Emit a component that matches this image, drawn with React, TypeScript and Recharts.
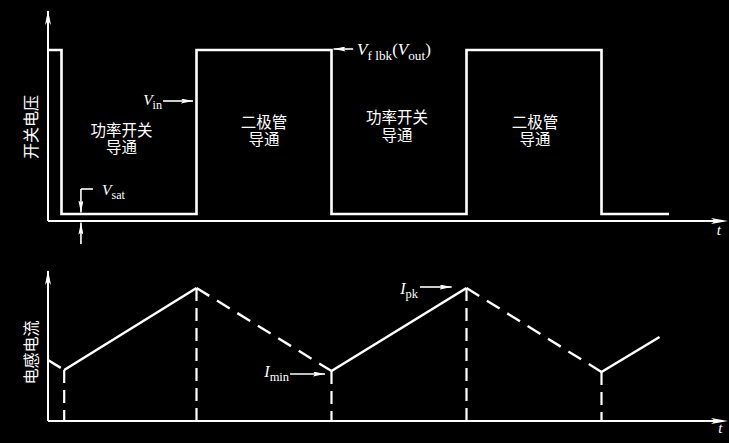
import React from 'react';
import { ComposedChart, Line, XAxis, YAxis, ReferenceLine, ReferenceDot } from 'recharts';

// ---------------- data ----------------
// switch voltage waveform (time units, volts arbitrary)
const switchTime = [0, 1, 1, 11, 11, 21, 21, 31, 31, 41, 41, 46];
const switchVolt = [8.55, 8.55, 0.35, 0.35, 8.55, 8.55, 0.35, 0.35, 8.55, 8.55, 0.35, 0.35];

// inductor current turning points
const currentTime = [0, 1.2, 11, 21, 31, 41, 45.3];
const currentAmp = [3.05, 2.55, 6.65, 2.5, 6.65, 2.45, 4.2];
// segment i goes from point i to i+1: true = rising (switch on, solid), false = falling (diode, dashed)
const segmentRising = [false, true, false, true, false, true];
// turning points that get a dashed drop line
const dropIndex = [1, 2, 3, 4, 5];

// conduction region labels
const regionT = [5.44, 16, 25.85, 36.07];
const regionV = [4.12, 4.51, 4.75, 4.53];
const regionText = [
  ['功率开关', '导通'],
  ['二极管', '导通'],
  ['功率开关', '导通'],
  ['二极管', '导通'],
];

const topAxisTitle = '开关电压';
const bottomAxisTitle = '电感电流';
const timeLabel = 't';

// axis extents
const timeMax = 50;
const voltMax = 10.5;
const ampMax = 7.5;

// annotation anchor points [t, value]
const vinArrow = [[8.52, 6.0], [10.74, 6.0]];
const vflbkArrow = [[22.6, 8.6], [21.15, 8.6]];
const vsatLeader = [[3.33, 1.6], [2.44, 1.6]];
const vsatDown = [[2.44, 1.6], [2.44, 0.42]];
const vsatUp = [[2.44, -1.15], [2.44, -0.08]];
const vsatText = [4.0, 1.3];
const ipkArrow = [[27.56, 6.7], [29.9, 6.7]];
const iminArrow = [[17.93, 2.35], [20.52, 2.35]];

// ---------------- derived ----------------
const switchData = switchTime.map((t, i) => ({ t, v: switchVolt[i] }));
const currentPts = currentTime.map((t, i) => ({ t, v: currentAmp[i] }));
const buildSegments = (rising: boolean) => {
  const out: { t: number; v: number | null }[] = [];
  segmentRising.forEach((r, i) => {
    if (r !== rising) return;
    if (out.length) out.push({ t: currentTime[i], v: null });
    out.push(currentPts[i], currentPts[i + 1]);
  });
  return out;
};
const risingData = buildSegments(true);
const fallingData = buildSegments(false);

const WHITE = '#ffffff';
const SERIF = "'Liberation Serif', 'DejaVu Serif', serif";
const CJK = "'Noto Sans CJK SC', 'Noto Sans', sans-serif";
const CJK_BLOCK = "'Liberation Sans', 'Noto Sans CJK SC', sans-serif";

type Part = { s: string; i?: boolean; sub?: boolean };

function rich(x: number, y: number, parts: Part[], anchor: 'start' | 'end' | 'middle', size: number) {
  const subSize = size * 0.78;
  const shift = size * 0.28;
  let prevSub = false;
  const spans = parts.map((p, k) => {
    let dy = 0;
    if (p.sub && !prevSub) dy = shift;
    if (!p.sub && prevSub) dy = -shift;
    prevSub = !!p.sub;
    return (
      <tspan key={k} dy={dy} fontStyle={p.i ? 'italic' : 'normal'} fontSize={p.sub ? subSize : size}>
        {p.s}
      </tspan>
    );
  });
  return (
    <text x={x} y={y} textAnchor={anchor} fill={WHITE} fontFamily={SERIF} fontSize={size}>
      {spans}
    </text>
  );
}

const noteLabel = (render: (x: number, y: number) => React.ReactNode) => (props: any) => {
  const vb = props && props.viewBox ? props.viewBox : props;
  const x = (vb.x || 0) + (vb.width || 0) / 2;
  const y = (vb.y || 0) + (vb.height || 0) / 2;
  return <g>{render(x, y)}</g>;
};

const arrowShape = (marker: string | null, width = 1.6) => (p: any) => (
  <line
    x1={p.x1}
    y1={p.y1}
    x2={p.x2}
    y2={p.y2}
    stroke={WHITE}
    strokeWidth={width}
    markerEnd={marker ? `url(#${marker})` : undefined}
  />
);

const seg = (a: number[][]) => [
  { x: a[0][0], y: a[0][1] },
  { x: a[1][0], y: a[1][1] },
];

const Note = (t: number, v: number, render: (x: number, y: number) => React.ReactNode, key: string) => (
  <ReferenceDot
    key={key}
    x={t}
    y={v}
    r={0}
    fill="none"
    stroke="none"
    ifOverflow="visible"
    label={noteLabel(render)}
  />
);

const verticalTitle = (text: string) => (x: number, y: number) => (
  <text
    x={x}
    y={y}
    transform={`rotate(-90 ${x} ${y})`}
    textAnchor="middle"
    dominantBaseline="central"
    fontFamily={CJK}
    fontSize={16}
    fill={WHITE}
  >
    {text}
  </text>
);

const BLOCK_SIZE = 15.5;
const BLOCK_GAP = 17.5;
const blockText = (lines: string[]) => (x: number, y: number) => (
  <g>
    {lines.map((l, i) => (
      <text
        key={i}
        x={x}
        y={y + (i - (lines.length - 1) / 2) * BLOCK_GAP + BLOCK_SIZE * 0.38}
        textAnchor="middle"
        fontFamily={CJK_BLOCK}
        fontSize={BLOCK_SIZE}
        fill={WHITE}
      >
        {l}
      </text>
    ))}
  </g>
);

const axisLines = (vMax: number) => [
  <ReferenceLine
    key="ax"
    segment={[
      { x: 0, y: 0 },
      { x: timeMax, y: 0 },
    ]}
    ifOverflow="visible"
    shape={arrowShape('axArrowX', 2)}
  />,
  <ReferenceLine
    key="ay"
    segment={[
      { x: 0, y: 0 },
      { x: 0, y: vMax },
    ]}
    ifOverflow="visible"
    shape={arrowShape('axArrowY', 2)}
  />,
];

export default function App() {
  return (
    <div
      style={{
        position: 'absolute',
        left: 0,
        top: 0,
        width: 729,
        height: 443,
        background: '#000',
        overflow: 'hidden',
      }}
    >
      <svg width={0} height={0} style={{ position: 'absolute' }}>
        <defs>
          <marker
            id="axArrowX"
            markerUnits="userSpaceOnUse"
            markerWidth={17}
            markerHeight={6}
            refX={12}
            refY={3}
            orient="auto"
          >
            <path d="M0,0 L17,3 L0,6 L4,3 Z" fill={WHITE} />
          </marker>
          <marker
            id="axArrowY"
            markerUnits="userSpaceOnUse"
            markerWidth={15}
            markerHeight={6}
            refX={14}
            refY={3}
            orient="auto"
          >
            <path d="M0,0 L15,3 L0,6 L4,3 Z" fill={WHITE} />
          </marker>
          <marker
            id="smArrow"
            markerUnits="userSpaceOnUse"
            markerWidth={12}
            markerHeight={5}
            refX={12}
            refY={2.5}
            orient="auto"
          >
            <path d="M0,0 L12,2.5 L0,5 L2,2.5 Z" fill={WHITE} />
          </marker>
        </defs>
      </svg>

      {/* ---------- switch voltage ---------- */}
      <div style={{ position: 'absolute', left: 0, top: 0 }}>
        <ComposedChart width={729} height={250} margin={{ top: 11, right: 6, bottom: 29, left: 0 }}>
          <XAxis
            type="number"
            dataKey="t"
            domain={[0, timeMax]}
            allowDataOverflow
            height={0}
            tick={false}
            tickLine={false}
            axisLine={false}
          />
          <YAxis
            type="number"
            dataKey="v"
            domain={[0, voltMax]}
            allowDataOverflow
            width={48}
            tick={false}
            tickLine={false}
            axisLine={false}
          />
          {axisLines(voltMax)}
          <Line
            data={switchData}
            dataKey="v"
            type="linear"
            stroke={WHITE}
            strokeWidth={2.6}
            dot={false}
            activeDot={false}
            isAnimationActive={false}
          />
          {regionT.map((t, i) => Note(t, regionV[i], blockText(regionText[i]), `r${i}`))}
          {Note(-1.33, 4.7, verticalTitle(topAxisTitle), 'tt')}
          {Note(49.7, -0.7, (x, y) => rich(x, y, [{ s: timeLabel, i: true }], 'middle', 15), 't1')}

          <ReferenceLine segment={seg(vinArrow)} ifOverflow="visible" shape={arrowShape('smArrow')} />
          {Note(vinArrow[0][0], vinArrow[0][1], (x, y) =>
            rich(x - 1, y + 4, [{ s: 'V', i: true }, { s: 'in', sub: true }], 'end', 15.5), 'vin')}

          <ReferenceLine segment={seg(vflbkArrow)} ifOverflow="visible" shape={arrowShape('smArrow')} />
          {Note(vflbkArrow[0][0], vflbkArrow[0][1], (x, y) =>
            rich(
              x + 4,
              y + 6,
              [
                { s: 'V', i: true },
                { s: 'f lbk', sub: true },
                { s: '(' },
                { s: 'V', i: true },
                { s: 'out', sub: true },
                { s: ')' },
              ],
              'start',
              17
            ), 'vfl')}

          <ReferenceLine segment={seg(vsatLeader)} ifOverflow="visible" shape={arrowShape(null)} />
          <ReferenceLine segment={seg(vsatDown)} ifOverflow="visible" shape={arrowShape('smArrow')} />
          <ReferenceLine segment={seg(vsatUp)} ifOverflow="visible" shape={arrowShape('smArrow')} />
          {Note(vsatText[0], vsatText[1], (x, y) =>
            rich(x, y, [{ s: 'V', i: true }, { s: 'sat', sub: true }], 'start', 15.5), 'vsat')}
        </ComposedChart>
      </div>

      {/* ---------- inductor current ---------- */}
      <div style={{ position: 'absolute', left: 0, top: 250 }}>
        <ComposedChart width={729} height={193} margin={{ top: 21, right: 6, bottom: 22, left: 0 }}>
          <XAxis
            type="number"
            dataKey="t"
            domain={[0, timeMax]}
            allowDataOverflow
            height={0}
            tick={false}
            tickLine={false}
            axisLine={false}
          />
          <YAxis
            type="number"
            dataKey="v"
            domain={[0, ampMax]}
            allowDataOverflow
            width={48}
            tick={false}
            tickLine={false}
            axisLine={false}
          />
          {axisLines(ampMax)}
          {dropIndex.map((i) => (
            <ReferenceLine
              key={`d${i}`}
              segment={[
                { x: currentTime[i], y: currentAmp[i] },
                { x: currentTime[i], y: 0 },
              ]}
              stroke={WHITE}
              strokeWidth={2.2}
              strokeDasharray="13 7"
              ifOverflow="visible"
            />
          ))}
          <Line
            data={risingData}
            dataKey="v"
            type="linear"
            stroke={WHITE}
            strokeWidth={2.6}
            dot={false}
            activeDot={false}
            connectNulls={false}
            isAnimationActive={false}
          />
          <Line
            data={fallingData}
            dataKey="v"
            type="linear"
            stroke={WHITE}
            strokeWidth={2.4}
            strokeDasharray="15 9"
            dot={false}
            activeDot={false}
            connectNulls={false}
            isAnimationActive={false}
          />
          {Note(-1.33, 3.43, verticalTitle(bottomAxisTitle), 'bt')}
          {Note(49.8, -0.6, (x, y) => rich(x, y, [{ s: timeLabel, i: true }], 'middle', 15), 't2')}

          <ReferenceLine segment={seg(ipkArrow)} ifOverflow="visible" shape={arrowShape('smArrow')} />
          {Note(ipkArrow[0][0], ipkArrow[0][1], (x, y) =>
            rich(x - 2, y + 7, [{ s: 'I', i: true }, { s: 'pk', sub: true }], 'end', 16), 'ipk')}

          <ReferenceLine segment={seg(iminArrow)} ifOverflow="visible" shape={arrowShape('smArrow')} />
          {Note(iminArrow[0][0], iminArrow[0][1], (x, y) =>
            rich(x - 1, y + 3, [{ s: 'I', i: true }, { s: 'min', sub: true }], 'end', 16), 'imin')}
        </ComposedChart>
      </div>
    </div>
  );
}
